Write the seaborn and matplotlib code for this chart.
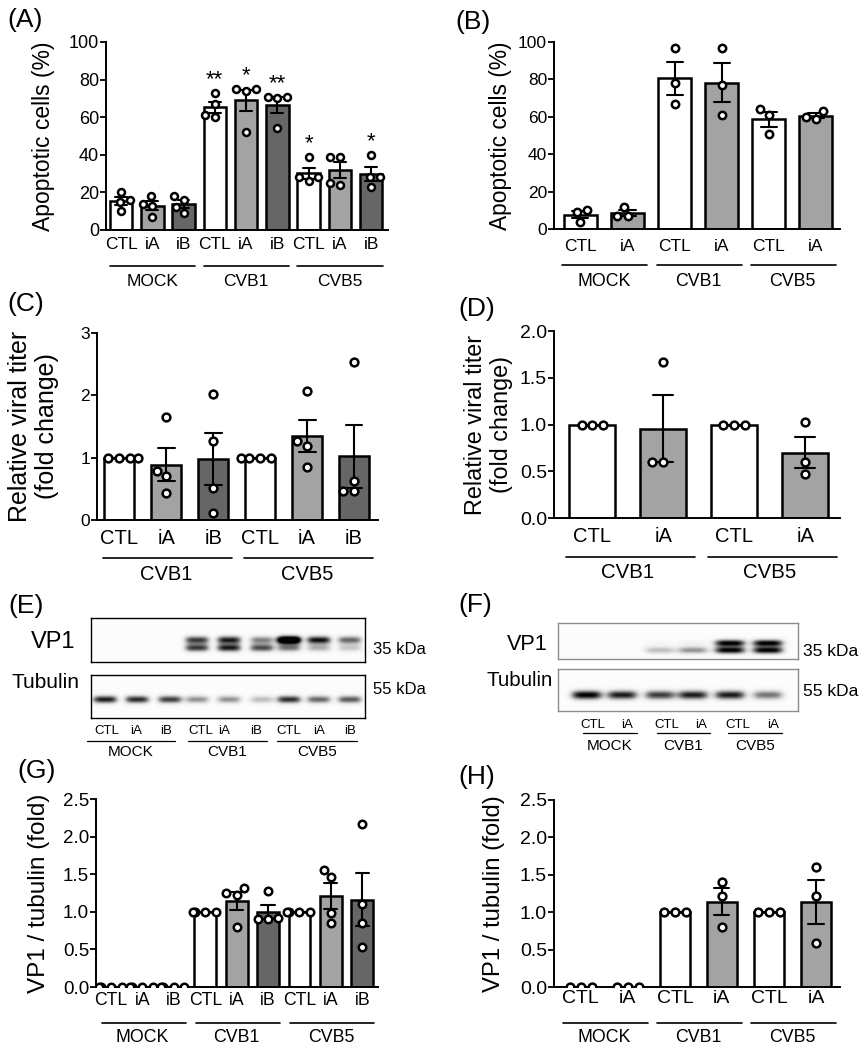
import numpy as np
import pandas as pd
import seaborn as sns
import matplotlib.pyplot as plt
from matplotlib.lines import Line2D
from matplotlib.transforms import blended_transform_factory, offset_copy

sns.set_style("ticks")
plt.rcParams["font.family"] = ["Liberation Sans", "DejaVu Sans"]
plt.rcParams.update({"text.color": "black", "axes.labelcolor": "black",
                     "xtick.color": "black", "ytick.color": "black",
                     "axes.edgecolor": "black"})

W, H = 865, 1050
WHITE, LGRAY, DGRAY = "#ffffff", "#a3a3a3", "#666666"

# ---------------- data ----------------
groups3 = ["MOCK", "CVB1", "CVB5"]
groups2 = ["CVB1", "CVB5"]
treat3 = ["CTL", "iA", "iB"]
treat2 = ["CTL", "iA"]

# (A) apoptotic cells, siRNA A/B, n=4
a_vals = [[20, 16, 15, 10], [18, 13, 14, 7], [18, 16, 12, 9],
          [73, 67, 61, 60], [75, 75, 74, 52], [71, 71, 70, 54],
          [39, 28, 28, 26], [39, 39, 24, 25], [40, 28, 28, 23]]
a_sig = ["", "", "", "**", "*", "**", "*", "", "*"]
# (B) apoptotic cells, n=3
b_vals = [[10, 9, 4], [12, 7, 7], [97, 78, 67], [97, 77, 61], [64, 61, 51], [63, 60, 59]]
# (C) relative viral titer, n=4
c_vals = [[1, 1, 1, 1], [1.65, 0.78, 0.70, 0.43], [2.02, 1.26, 0.51, 0.12],
          [1, 1, 1, 1], [2.07, 1.26, 1.19, 0.85], [2.53, 0.63, 0.46, 0.46]]
# (D) relative viral titer, n=3
d_vals = [[1, 1, 1], [1.67, 0.60, 0.60], [1, 1, 1], [1.03, 0.60, 0.47]]
# (G) VP1 / tubulin, n=4
g_vals = [[0, 0, 0, 0], [0, 0, 0, 0], [0, 0, 0, 0],
          [1, 1, 1, 1], [1.22, 1.31, 1.25, 0.80], [1.28, 0.92, 0.90, 0.90],
          [1, 1, 1, 1], [1.56, 1.46, 0.99, 0.85], [2.17, 1.10, 0.85, 0.53]]
# (H) VP1 / tubulin, n=3
h_vals = [[0, 0, 0], [0, 0, 0], [1, 1, 1], [1.41, 1.21, 0.80], [1, 1, 1], [1.60, 1.21, 0.59]]

# western blot band intensities (0 = none, >1 saturated)
e_vp1_upper = [0, 0, 0, 0.80, 0.90, 0.55, 1.6, 0.95, 0.65]
e_vp1_lower = [0, 0, 0, 0.80, 0.90, 0.75, 0.60, 0.40, 0.30]
e_tubulin = [0.90, 0.85, 0.80, 0.50, 0.50, 0.35, 0.85, 0.65, 0.70]
f_vp1_upper = [0, 0, 0.05, 0.08, 1.0, 1.0]
f_vp1_lower = [0, 0, 0.35, 0.50, 1.0, 1.0]
f_tubulin = [1.0, 0.90, 0.80, 0.90, 0.90, 0.60]

fig = plt.figure(figsize=(W / 100, H / 100), dpi=100)


def px_axes(l, t, r, b):
    return fig.add_axes([l / W, 1 - b / H, (r - l) / W, (b - t) / H])


def ftext(x, y, s, **kw):
    fig.text(x / W, 1 - y / H, s, **kw)


def fline(x0, x1, y, lw=1.0, color="black"):
    fig.add_artist(Line2D([x0 / W, x1 / W], [1 - y / H] * 2, transform=fig.transFigure,
                          color=color, lw=lw))


def bar_panel(ax, groups, treats, vals, colors, ylim, yticks, ylabel, xlim, p):
    keys = [f"{g} {t}" for g in groups for t in treats]
    df = pd.DataFrame({"key": np.repeat(keys, [len(v) for v in vals]),
                       "val": np.concatenate(vals)})
    pal = dict(zip(keys, colors * len(groups)))
    sns.barplot(data=df, x="key", y="val", hue="key", order=keys, hue_order=keys,
                palette=pal, saturation=1, errorbar="se", capsize=p["cap"],
                err_kws={"color": "black", "linewidth": 1.5},
                edgecolor="black", linewidth=1.8, width=p["width"], legend=False, ax=ax)
    sns.swarmplot(data=df, x="key", y="val", order=keys, color="white", edgecolor="black",
                  linewidth=1.8, size=p["dot"], ax=ax, zorder=4, warn_thresh=1)
    ax.set_xlim(*xlim)
    ax.set_ylim(*ylim)
    ax.set_yticks(yticks)
    ax.set_yticklabels(p["ytl"])
    ax.set_xticks(range(len(keys)))
    ax.set_xticklabels(treats * len(groups))
    ax.set_xlabel("")
    ax.set_ylabel(ylabel, fontsize=p["ylfs"], linespacing=1.15)
    ax.yaxis.set_label_coords(p["ylx"], 0.5)
    ax.tick_params(axis="y", length=4, width=1.3, labelsize=p["ytfs"], pad=1)
    ax.tick_params(axis="x", length=0, labelsize=p["xtfs"], pad=p["xpad"])
    sns.despine(ax=ax)
    for s in ("left", "bottom"):
        ax.spines[s].set_linewidth(1.4)
    tr = blended_transform_factory(ax.transData, ax.transAxes)
    nt = len(treats)
    for i, g in enumerate(groups):
        x0, x1 = i * nt - p["lo"], (i + 1) * nt - 1 + p["hi"]
        ax.plot([x0, x1], [0, 0], color="black", lw=1.2, clip_on=False,
                transform=offset_copy(tr, fig, y=-p["line_dy"], units="dots"))
        ax.text(i * nt + (nt - 1) / 2, 0, g, ha="center", va="center", fontsize=p["gfs"],
                transform=offset_copy(tr, fig, y=-p["text_dy"], units="dots"))


# ---------------- (A) ----------------
axA = px_axes(106, 42, 388, 230)
bar_panel(axA, groups3, treat3, a_vals, [WHITE, LGRAY, DGRAY], (0, 100), range(0, 101, 20),
          "Apoptotic cells (%)", (-0.48, 8.54),
          dict(cap=0.38, width=0.72, dot=5.0, ytl=[str(v) for v in range(0, 101, 20)],
               ylfs=16.5, ylx=(55 - 106) / 282, ytfs=13, xtfs=12.5, xpad=4.8,
               lo=0.36, hi=0.38, line_dy=36, text_dy=52, gfs=12.5))
for i, s in enumerate(a_sig):
    if s:
        axA.text(i, max(a_vals[i]) + 7, s, ha="center", va="center", fontsize=16)

# ---------------- (B) ----------------
axB = px_axes(554, 42, 840, 229)
bar_panel(axB, groups3, treat2, b_vals, [WHITE, LGRAY], (0, 100), range(0, 101, 20),
          "Apoptotic cells (%)", (-0.56, 5.51),
          dict(cap=0.34, width=0.7, dot=5.3, ytl=[str(v) for v in range(0, 101, 20)],
               ylfs=16.4, ylx=(512 - 554) / 286, ytfs=12.5, xtfs=12.5, xpad=7,
               lo=0.38, hi=0.42, line_dy=36, text_dy=52, gfs=12.8))

# ---------------- (C) ----------------
axC = px_axes(97, 333, 378, 520)
bar_panel(axC, groups2, treat3, c_vals, [WHITE, LGRAY, DGRAY], (0, 3), [0, 1, 2, 3],
          "Relative viral titer\n(fold change)", (-0.47, 5.51),
          dict(cap=0.36, width=0.64, dot=5.6, ytl=["0", "1", "2", "3"],
               ylfs=18, ylx=(59 - 97) / 281, ytfs=12.5, xtfs=14.5, xpad=6.3,
               lo=0.34, hi=0.4, line_dy=38, text_dy=55, gfs=14.5))

# ---------------- (D) ----------------
axD = px_axes(554, 331, 840, 518)
bar_panel(axD, groups2, treat2, d_vals, [WHITE, LGRAY], (0, 2), [0, 0.5, 1, 1.5, 2],
          "Relative viral titer\n(fold change)", (-0.54, 3.49),
          dict(cap=0.28, width=0.65, dot=5.6, ytl=["0.0", "0.5", "1.0", "1.5", "2.0"],
               ylfs=16.8, ylx=(513 - 554) / 286, ytfs=14, xtfs=14.5, xpad=6.3,
               lo=0.37, hi=0.45, line_dy=39, text_dy=54, gfs=14.7))

# ---------------- (G) ----------------
axG = px_axes(96, 799, 378, 987)
bar_panel(axG, groups3, treat3, g_vals, [WHITE, LGRAY, DGRAY], (0, 2.5),
          [0, 0.5, 1, 1.5, 2, 2.5], "VP1 / tubulin (fold)", (-0.48, 8.5),
          dict(cap=0.42, width=0.7, dot=5.4, ytl=["0.0", "0.5", "1.0", "1.5", "2.0", "2.5"],
               ylfs=17.5, ylx=(50 - 96) / 282, ytfs=13.5, xtfs=12.7, xpad=3.3,
               lo=0.3, hi=0.38, line_dy=36, text_dy=51, gfs=12.8))

# ---------------- (H) ----------------
axH = px_axes(554, 800, 840, 987)
bar_panel(axH, groups3, treat2, h_vals, [WHITE, LGRAY], (0, 2.5),
          [0, 0.5, 1, 1.5, 2, 2.5], "VP1 / tubulin (fold)", (-0.57, 5.51),
          dict(cap=0.32, width=0.65, dot=5.6, ytl=["0.0", "0.5", "1.0", "1.5", "2.0", "2.5"],
               ylfs=17.2, ylx=(505 - 554) / 286, ytfs=14, xtfs=14, xpad=2,
               lo=0.38, hi=0.43, line_dy=36, text_dy=51, gfs=12.8))


# ---------------- western blots ----------------
def blot(ax, lanes, bands, wx, edge):
    X, Y = np.meshgrid(np.linspace(0, 1, 600), np.linspace(0, 1, 90))
    img = np.full(X.shape, 0.02)
    for yc, wy, inten in bands:
        for xc, v in zip(lanes, inten):
            img += v * np.exp(-np.abs((X - xc) / wx) ** 4) * np.exp(-((Y - yc) / wy) ** 2)
    ax.imshow(np.clip(img, 0, 1), cmap="Greys", vmin=0, vmax=1, extent=(0, 1, 1, 0),
              aspect="auto", interpolation="bilinear")
    ax.set_xlim(0, 1)
    ax.set_ylim(1, 0)
    ax.set_xticks([])
    ax.set_yticks([])
    for s in ax.spines.values():
        s.set_visible(True)
        s.set_color(edge)
        s.set_linewidth(1.0)


e_lanes = [0.051, 0.168, 0.288, 0.387, 0.504, 0.624, 0.723, 0.832, 0.945]
blot(px_axes(91, 618, 365, 662), e_lanes,
     [(0.50, 0.09, e_vp1_upper), (0.68, 0.09, e_vp1_lower)], 0.045, "black")
blot(px_axes(91, 675, 365, 718), e_lanes, [(0.57, 0.09, e_tubulin)], 0.045, "black")

f_lanes = [0.12, 0.267, 0.425, 0.5625, 0.717, 0.875]
blot(px_axes(558, 623, 798, 659), f_lanes,
     [(0.56, 0.1, f_vp1_upper), (0.76, 0.1, f_vp1_lower)], 0.065, "#8c8c8c")
blot(px_axes(558, 669, 798, 711), f_lanes, [(0.62, 0.11, f_tubulin)], 0.065, "#8c8c8c")

ftext(75, 642, "VP1", ha="right", va="center", fontsize=17)
ftext(79, 682, "Tubulin", ha="right", va="center", fontsize=15)
ftext(373, 649, "35 kDa", ha="left", va="center", fontsize=12)
ftext(373, 690, "55 kDa", ha="left", va="center", fontsize=12)
ftext(548, 644, "VP1", ha="right", va="center", fontsize=15.6)
ftext(553, 680, "Tubulin", ha="right", va="center", fontsize=14.8)
ftext(803, 651, "35 kDa", ha="left", va="center", fontsize=12.5)
ftext(803, 691, "55 kDa", ha="left", va="center", fontsize=12.5)

e_lane_x = [107, 136, 166, 201, 224, 256, 289, 319, 350]
for x, t in zip(e_lane_x, treat3 * 3):
    ftext(x, 731, t, ha="center", va="center", fontsize=9.5)
for (x0, x1), g in zip([(87, 175), (188, 267), (277, 357)], groups3):
    fline(x0, x1, 741, lw=0.9)
    ftext((x0 + x1) / 2, 752, g, ha="center", va="center", fontsize=11)

f_lane_x = [593, 627, 667, 701, 738, 773]
for x, t in zip(f_lane_x, treat2 * 3):
    ftext(x, 725, t, ha="center", va="center", fontsize=9.5)
for (x0, x1), g in zip([(583, 637), (657, 710), (728, 782)], groups3):
    fline(x0, x1, 733, lw=0.9)
    ftext((x0 + x1) / 2, 746, g, ha="center", va="center", fontsize=11)

# ---------------- panel letters ----------------
for x, y, s in [(7, 20, "(A)"), (455, 22, "(B)"), (7, 304, "(C)"), (458, 309, "(D)"),
                (8, 606, "(E)"), (458, 605, "(F)"), (17, 771, "(G)"), (458, 777, "(H)")]:
    ftext(x, y, s, ha="left", va="center", fontsize=19)

fig.savefig("out.png", dpi=100)
